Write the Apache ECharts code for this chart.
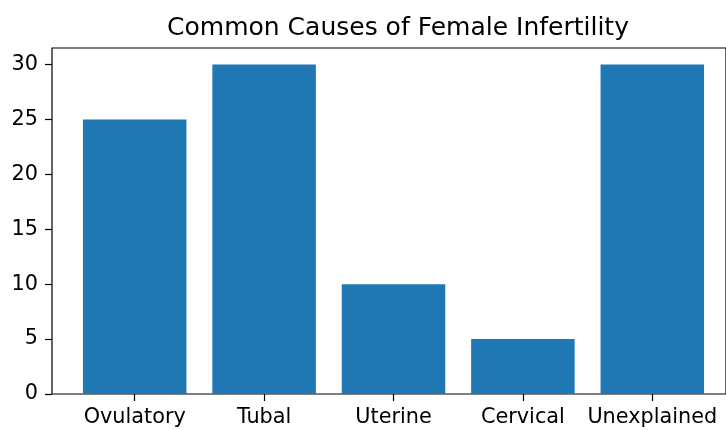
<!DOCTYPE html>
<html>
<head>
<meta charset="utf-8">
<script src="https://cdn.jsdelivr.net/npm/echarts@6/dist/echarts.min.js"></script>
<style>
  html, body { margin: 0; padding: 0; background: #fff; }
  #chart { width: 726px; height: 430px; }
</style>
</head>
<body>
<div id="chart"></div>
<script>
// data
const causes = ['Ovulatory', 'Tubal', 'Uterine', 'Cervical', 'Unexplained'];
const percents = [25, 30, 10, 5, 30];
const yTicks = [0, 5, 10, 15, 20, 25, 30];

const chart = echarts.init(document.getElementById('chart'), null, { renderer: 'canvas' });
const font = 'DejaVu Sans';

const option = {
  animation: false,
  title: {
    text: 'Common Causes of Female Infertility',
    left: 393, top: 11, textAlign: 'center',
    textStyle: { fontFamily: font, fontSize: 25, fontWeight: 'normal', color: '#000' }
  },
  grid: [
    // frame (matplotlib spines), right side runs past the picture
    { left: 52, right: -9, top: 48, bottom: 36, show: true, borderColor: '#000', borderWidth: 1.2, backgroundColor: 'transparent' },
    // bars, inset by the 5% x margin
    { left: 70, right: 9, top: 48, bottom: 36 }
  ],
  xAxis: [
    { gridIndex: 0, type: 'value', min: 0, max: 1, show: false },
    {
      gridIndex: 1, type: 'category', data: causes,
      axisLine: { show: false },
      axisTick: { show: true, alignWithLabel: true, length: 7, lineStyle: { color: '#000', width: 1.2 } },
      axisLabel: { fontFamily: font, fontSize: 20.8, color: '#000', margin: 13, interval: 0 }
    }
  ],
  yAxis: [
    { gridIndex: 0, type: 'value', min: 0, max: 1, show: false },
    {
      gridIndex: 1, type: 'value', min: 0, max: 31.5, interval: 5, offset: 18,
      axisLine: { show: false },
      axisTick: { show: true, length: 7, lineStyle: { color: '#000', width: 1.2 } },
      splitLine: { show: false },
      axisLabel: {
        fontFamily: font, fontSize: 20.8, color: '#000', margin: 14,
        showMaxLabel: false,
        formatter: v => (yTicks.includes(v) ? String(v) : '')
      }
    }
  ],
  series: [{
    type: 'bar',
    xAxisIndex: 1, yAxisIndex: 1,
    data: percents,
    barWidth: '80%',
    itemStyle: { color: '#1f77b4' }
  }]
};

chart.setOption(option);
</script>
</body>
</html>
